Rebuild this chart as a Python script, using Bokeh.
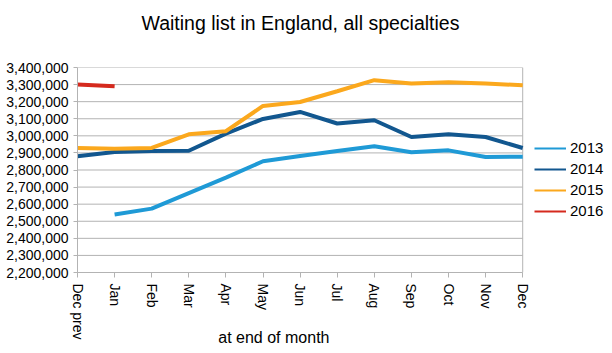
import math
from bokeh.plotting import figure
from bokeh.models import (ColumnDataSource, FixedTicker, NumeralTickFormatter,
                          Legend, LegendItem, Title, Range1d)
from bokeh.embed import file_html
from bokeh.resources import INLINE

months = ["Dec prev", "Jan", "Feb", "Mar", "Apr", "May", "Jun",
          "Jul", "Aug", "Sep", "Oct", "Nov", "Dec"]
years = ["2013", "2014", "2015", "2016"]
v2013 = [None, 2540000, 2574000, 2665000, 2755000, 2851000, 2882000,
         2911000, 2939000, 2904000, 2915000, 2876000, 2878000]
v2014 = [2880000, 2905000, 2911000, 2913000, 3013000, 3099000, 3140000,
         3072000, 3091000, 2993000, 3009000, 2993000, 2929000]
v2015 = [2929000, 2925000, 2929000, 3009000, 3027000, 3175000, 3198000,
         3261000, 3326000, 3306000, 3314000, 3306000, 3296000]
v2016 = [3300000, 3290000]
y_ticks = list(range(2200000, 3400001, 100000))

colors = ["#1f9ad6", "#12578f", "#fba81d", "#d52a1e"]
GRID = "#b3b3b3"
FONT = "Liberation Sans"

last = len(months) - 1
# frame is extended to the right so the legend can sit beside the chart area
p = figure(width=612, height=353, output_backend="svg", toolbar_location=None,
           x_range=Range1d(0, last + 2.42), y_range=Range1d(y_ticks[0], y_ticks[-1]),
           min_border_left=77, min_border_right=0, min_border_top=67,
           min_border_bottom=81)
p.background_fill_color = "white"
p.border_fill_color = "white"
p.outline_line_color = None
p.xgrid.grid_line_color = None
p.ygrid.grid_line_color = None

# grid lines and right border limited to the month span
p.segment(x0=0, x1=last, y0=y_ticks, y1=y_ticks, line_color=GRID, line_width=1)
p.segment(x0=[last], x1=[last], y0=[y_ticks[0]], y1=[y_ticks[-1]],
          line_color=GRID, line_width=1)

series = [v2013, v2014, v2015, v2016]
items = []
for name, vals, c in zip(years, series, colors):
    xs = [i for i, v in enumerate(vals) if v is not None]
    ys = [v for v in vals if v is not None]
    src = ColumnDataSource(dict(x=xs, y=ys))
    p.line("x", "y", source=src, line_color=c, line_width=4)
    # thinner legend sample, as in the reference (single point: draws nothing in the chart)
    lr = p.line(x=xs[:1], y=ys[:1], line_color=c, line_width=2)
    items.append(LegendItem(label=name, renderers=[lr]))

# axes
p.xaxis.bounds = (0, last)
p.xaxis.ticker = FixedTicker(ticks=list(range(len(months))))
p.xaxis.major_label_overrides = {i: m for i, m in enumerate(months)}
p.xaxis.major_label_orientation = -math.pi / 2
p.xaxis.major_tick_out = 5
p.xaxis.major_tick_in = 0
p.xaxis.minor_tick_line_color = None
p.xaxis.major_label_standoff = 6
p.xaxis.axis_label = "at end of month" + "\u00a0" * 32
p.xaxis.axis_label_text_font = FONT
p.xaxis.axis_label_text_font_size = "16px"
p.xaxis.axis_label_text_font_style = "normal"
p.xaxis.axis_label_text_color = "black"
p.xaxis.axis_label_standoff = -14
p.yaxis.ticker = FixedTicker(ticks=y_ticks)
p.yaxis.formatter = NumeralTickFormatter(format="0,0")
p.yaxis.major_tick_out = 4
p.yaxis.major_tick_in = 0
p.yaxis.minor_tick_line_color = None
p.yaxis.major_label_standoff = 5
for ax in (p.xaxis, p.yaxis):
    ax.axis_line_color = GRID
    ax.major_tick_line_color = GRID
    ax.major_label_text_font = FONT
    ax.major_label_text_font_size = "14px"
    ax.major_label_text_color = "black"

legend = Legend(items=items, location=(457, 53), orientation="vertical",
                border_line_color=None, background_fill_alpha=0,
                label_text_font=FONT, label_text_font_size="15px",
                label_text_color="black",
                glyph_width=32, glyph_height=16, label_height=16,
                label_standoff=4, spacing=4, padding=0, margin=0)
p.add_layout(legend)

# title with spacer
p.add_layout(Title(text=" ", text_font_size="15px"), "above")
p.add_layout(Title(text="Waiting list in England, all specialties", align="left",
                   offset=64, text_font=FONT, text_font_size="19.5px",
                   text_font_style="normal", text_color="black"), "above")

open("out.html", "w").write(file_html(p, INLINE))
